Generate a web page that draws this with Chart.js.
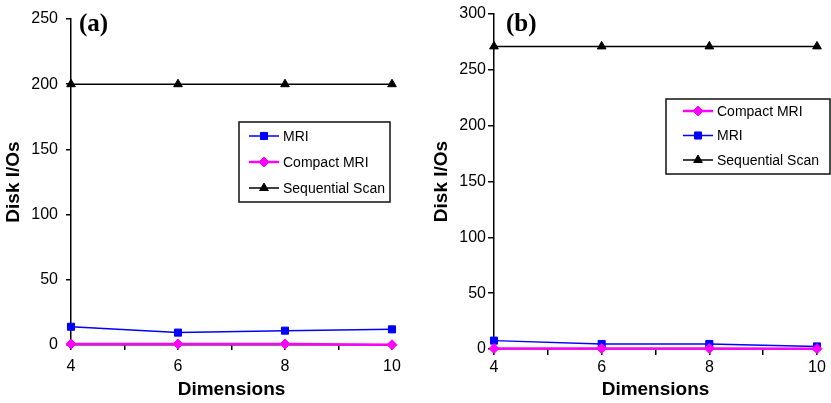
<!DOCTYPE html>
<html>
<head>
<meta charset="utf-8">
<script src="https://cdn.jsdelivr.net/npm/chart.js@4.4.1/dist/chart.umd.min.js"></script>
<style>
    body { margin: 0; background: #fff; }
    #wrap { position: relative; width: 831px; height: 403px; }
    canvas { position: absolute; top: 0; }
</style>
</head>
<body>
<div id="wrap">
    <canvas id="chart-a" width="420" height="403" style="left:0"></canvas>
    <canvas id="chart-b" width="411" height="403" style="left:420px"></canvas>
</div>
<script>
// Data
const dimensions = [4, 6, 8, 10];
const xTickLabels = [4, 6, 8, 10];

// panel (a)
const mriA = [14, 9.5, 11, 12];
const compactA = [0.8, 0.8, 0.8, 0.2];
const seqScanA = [200, 200, 200, 200];
const yMaxA = 250;

// panel (b)
const compactB = [0.4, 0.4, 0.4, 0.3];
const mriB = [7.5, 4.5, 4.5, 2.3];
const seqScanB = [271, 271, 271, 271];
const yMaxB = 300;

const yStep = 50;

const FONT = "'Liberation Sans', Arial, sans-serif";

function toPoints(values) {
    return dimensions.map((d, i) => ({ x: d, y: values[i] }));
}

function makeDataset(label, values, color, style, width) {
    return {
        label: label,
        data: toPoints(values),
        borderColor: color,
        backgroundColor: color,
        borderWidth: width,
        pointStyle: style,
        pointRadius: 5,
        pointBackgroundColor: color,
        pointBorderColor: color,
        pointBorderWidth: 1,
        tension: 0,
        clip: false
    };
}

// Draws the panel tag "(a)"/"(b)" and the boxed legend
const panelDecor = {
    id: 'panelDecor',
    afterDraw(chart, args, opts) {
        const ctx = chart.ctx;
        ctx.save();
        ctx.fillStyle = '#000';
        ctx.font = "bold 25px 'Liberation Serif', 'Times New Roman', serif";
        ctx.textAlign = 'left';
        ctx.textBaseline = 'alphabetic';
        ctx.fillText(opts.tag, opts.tagX, opts.tagY);

        const b = opts.box;
        ctx.lineWidth = 1.5;
        ctx.strokeStyle = '#111';
        ctx.strokeRect(b.left, b.top, b.right - b.left, b.bottom - b.top);

        ctx.font = '14px ' + FONT;
        ctx.textBaseline = 'middle';
        chart.data.datasets.forEach((ds, i) => {
            const y = opts.rowY + i * opts.rowGap;
            ctx.strokeStyle = ds.borderColor;
            ctx.lineWidth = ds.borderWidth;
            ctx.beginPath();
            ctx.moveTo(opts.lineX, y);
            ctx.lineTo(opts.lineX + 30, y);
            ctx.stroke();
            ctx.fillStyle = ds.borderColor;
            ctx.lineWidth = 1;
            Chart.helpers.drawPoint(ctx, {
                pointStyle: ds.pointStyle,
                radius: ds.pointRadius,
                borderWidth: 1,
                rotation: 0
            }, opts.lineX + 15, y);
            ctx.fillStyle = '#000';
            ctx.fillText(ds.label, opts.lineX + 34, y + 1);
        });
        ctx.restore();
    }
};

function makeChart(id, datasets, cfg) {
    return new Chart(document.getElementById(id), {
        type: 'line',
        data: { datasets: datasets },
        plugins: [panelDecor],
        options: {
            responsive: false,
            devicePixelRatio: 1,
            animation: false,
            layout: { padding: cfg.padding },
            plugins: {
                legend: { display: false },
                tooltip: { enabled: false },
                panelDecor: cfg.decor
            },
            scales: {
                x: {
                    type: 'linear',
                    min: 4,
                    max: 10,
                    afterFit: function(scale) { scale.height = cfg.xHeight; },
                    border: { display: true, color: '#000', width: 1.5 },
                    grid: { drawOnChartArea: false, drawTicks: true, tickLength: cfg.tickLen, color: '#000', lineWidth: 1.5 },
                    ticks: {
                        stepSize: 1,
                        autoSkip: false,
                        maxRotation: 0,
                        padding: cfg.xPad,
                        color: '#000',
                        font: { family: FONT, size: 16 },
                        callback: function(value) {
                            return xTickLabels.includes(value) ? String(value) : '';
                        }
                    },
                    title: {
                        display: true,
                        text: 'Dimensions',
                        color: '#000',
                        font: { family: FONT, size: 19, weight: 'bold' },
                        padding: { top: 0, bottom: 2 }
                    }
                },
                y: {
                    min: 0,
                    max: cfg.yMax,
                    afterFit: function(scale) { scale.width = cfg.yWidth; },
                    border: { display: true, color: '#000', width: 1.5 },
                    grid: { drawOnChartArea: false, drawTicks: true, tickLength: cfg.tickLen, color: '#000', lineWidth: 1.5 },
                    ticks: {
                        stepSize: yStep,
                        padding: cfg.yPad,
                        color: '#000',
                        font: { family: FONT, size: 16 }
                    },
                    title: {
                        display: true,
                        text: 'Disk I/Os',
                        color: '#000',
                        font: { family: FONT, size: 19, weight: 'bold' },
                        padding: { top: cfg.yTitlePad, bottom: 0 }
                    }
                }
            }
        }
    });
}

makeChart('chart-a', [
    makeDataset('MRI', mriA, '#0000ff', 'rect', 1.5),
    makeDataset('Compact MRI', compactA, '#ff00ff', 'rectRot', 2.5),
    makeDataset('Sequential Scan', seqScanA, '#000000', 'triangle', 1.5)
], {
    padding: { top: 19, right: 28, bottom: 0, left: 0 },
    xHeight: 58,
    yWidth: 71,
    yMax: yMaxA,
    tickLen: 5,
    xPad: 7,
    yPad: 8,
    yTitlePad: 2,
    decor: {
        tag: '(a)', tagX: 79, tagY: 31,
        box: { left: 239, top: 122, right: 390, bottom: 202 },
        lineX: 249, rowY: 136, rowGap: 26
    }
});

makeChart('chart-b', [
    makeDataset('Compact MRI', compactB, '#ff00ff', 'rectRot', 2.5),
    makeDataset('MRI', mriB, '#0000ff', 'rect', 1.5),
    makeDataset('Sequential Scan', seqScanB, '#000000', 'triangle', 1.5)
], {
    padding: { top: 14, right: 14, bottom: 0, left: 0 },
    xHeight: 54,
    yWidth: 74,
    yMax: yMaxB,
    tickLen: 6,
    xPad: 3,
    yPad: 2,
    yTitlePad: 10,
    decor: {
        tag: '(b)', tagX: 86, tagY: 31,
        box: { left: 246, top: 99, right: 410, bottom: 174 },
        lineX: 263, rowY: 111, rowGap: 24.5
    }
});
</script>
</body>
</html>
